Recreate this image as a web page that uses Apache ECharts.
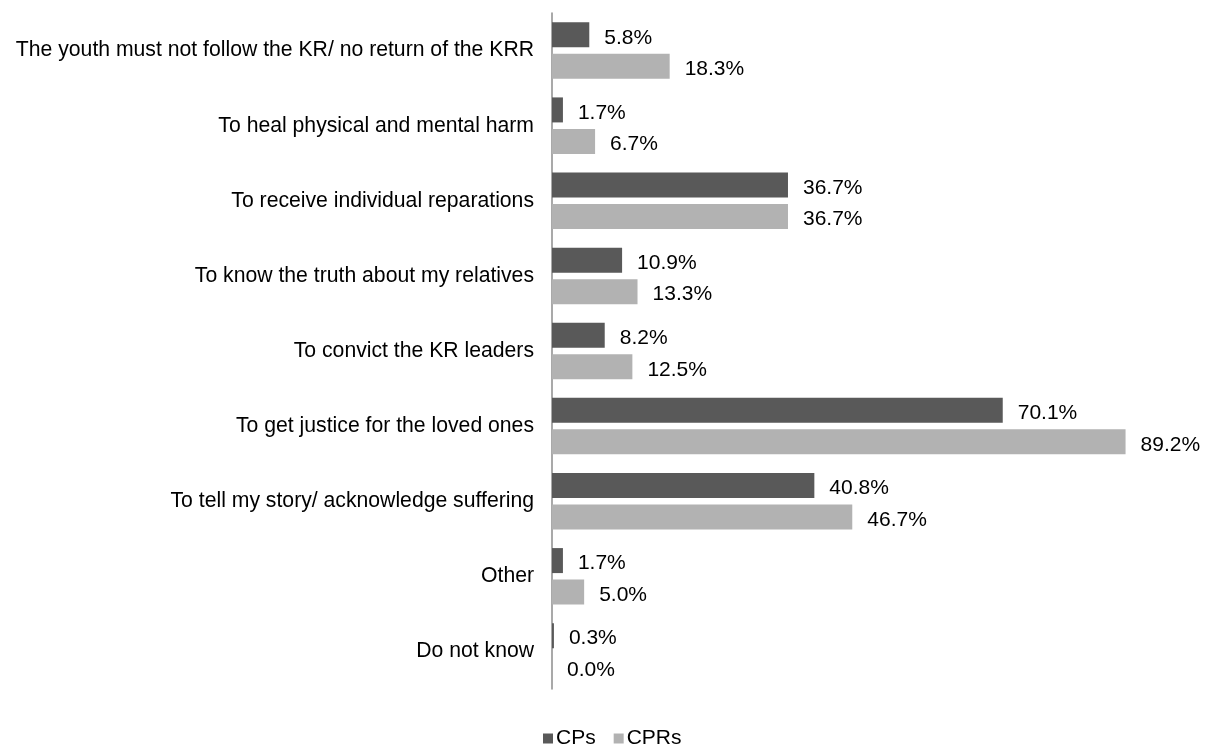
<!DOCTYPE html>
<html>
<head>
<meta charset="utf-8">
<script src="https://cdn.jsdelivr.net/npm/echarts@6/dist/echarts.min.js"></script>
<style>
  html, body { margin: 0; padding: 0; background: #fff; }
</style>
</head>
<body>
<div id="chart" style="width: 1209px;height: 746px"></div>
<script>
  // categories from top to bottom
  var categories = [
    'The youth must not follow the KR/ no return of the KRR',
    'To heal physical and mental harm',
    'To receive individual reparations',
    'To know the truth about my relatives',
    'To convict the KR leaders',
    'To get justice for the loved ones',
    'To tell my story/ acknowledge suffering',
    'Other',
    'Do not know'
  ];
  var cpsValues = [5.8, 1.7, 36.7, 10.9, 8.2, 70.1, 40.8, 1.7, 0.3];
  var cprsValues = [18.3, 6.7, 36.7, 13.3, 12.5, 89.2, 46.7, 5.0, 0.0];
  var seriesNames = ['CPs', 'CPRs'];

  var font = '"Liberation Sans", Arial, sans-serif';
  var chart = echarts.init(document.getElementById('chart'));

  function valueLabel() {
    return {
      show: true,
      position: 'right',
      distance: 15,
      offset: [0, 3],
      color: '#000',
      fontSize: 21,
      fontFamily: font,
      formatter: function (p) {
        return p.value.toFixed(1) + '%';
      }
    };
  }

  var option = {
    animation: false,
    backgroundColor: '#fff',
    grid: {
      left: 552,
      right: 14,
      top: 13,
      bottom: 57
    },
    legend: {
      data: seriesNames,
      left: 538,
      top: 723,
      itemWidth: 10,
      itemHeight: 10,
      itemGap: 18,
      icon: 'rect',
      textStyle: {
        color: '#000',
        fontSize: 21,
        fontFamily: font,
        padding: [8, 0, 0, -2]
      }
    },
    xAxis: {
      type: 'value',
      min: 0,
      max: 100,
      show: false
    },
    yAxis: {
      type: 'category',
      inverse: true,
      data: categories,
      axisLine: {
        show: true,
        lineStyle: { color: '#8c8c8c', width: 1.5 }
      },
      axisTick: { show: false },
      axisLabel: {
        margin: 18,
        color: '#000',
        fontSize: 21.2,
        fontFamily: font
      }
    },
    series: [
      {
        name: seriesNames[0],
        type: 'bar',
        data: cpsValues,
        barWidth: 25,
        barGap: '26%',
        itemStyle: { color: '#595959' },
        label: valueLabel()
      },
      {
        name: seriesNames[1],
        type: 'bar',
        data: cprsValues,
        barWidth: 25,
        itemStyle: { color: '#b2b2b2' },
        label: valueLabel()
      }
    ]
  };

  chart.setOption(option);
</script>
</body>
</html>
